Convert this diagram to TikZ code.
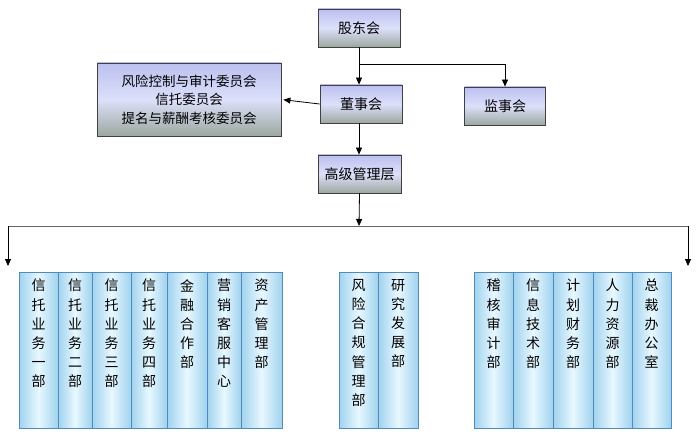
\documentclass[tikz,border=0pt]{standalone}
\usepackage{fontspec}
\setmainfont{Noto Sans CJK SC}
\usetikzlibrary{arrows.meta,calc}
\definecolor{boxtop}{RGB}{188,192,238}
\definecolor{boxmid}{RGB}{220,224,250}
\definecolor{boxbot}{RGB}{156,168,160}
\definecolor{colside}{RGB}{160,210,238}
\definecolor{colmid}{RGB}{232,248,255}
\definecolor{colborder}{RGB}{80,140,185}
\tikzset{
  topbox/.style={draw=black!75, line width=0.8pt, top color=boxtop, bottom color=boxbot, middle color=boxmid,
    minimum height=38pt, inner sep=2pt, font=\fontsize{14}{16}\selectfont},
  colbox/.style={draw=colborder, line width=0.8pt, left color=colside, right color=colside, middle color=colmid},
  coltext/.style={anchor=north, align=center, inner sep=0pt, font=\fontsize{14}{19.2}\selectfont},
  arr/.style={-{Triangle[length=7pt,width=6pt]}, line width=0.8pt, black},
  ln/.style={line width=0.8pt, black},
}
\begin{document}
\begin{tikzpicture}[x=1pt,y=-1pt]
\useasboundingbox (0,0) rectangle (700,443);
\fill[white] (0,0) rectangle (700,443);
% top boxes
\node[topbox, minimum width=82pt] (gd) at (359,28) {股东会};
\node[topbox, minimum width=82pt] (ds) at (361,104) {董事会};
\node[topbox, minimum width=81pt] (js) at (505,106) {监事会};
\node[topbox, minimum width=83pt] (gj) at (359.5,174) {高级管理层};
\node[topbox, minimum width=184pt, minimum height=73pt, align=center, font=\fontsize{13.5}{18.5}\selectfont] (wy) at (189,99.5)
  {风险控制与审计委员会\\信托委员会\\提名与薪酬考核委员会};
% connectors
\coordinate (br) at (359,64);
\draw[arr] (gd.south) -- (gd.south |- ds.north);
\draw[arr] (br) -| (js.north);
\draw[arr, shorten >=2pt] (ds.west) -- (wy.east);
\draw[arr] (gd.south |- ds.south) -- (gd.south |- gj.north);
\coordinate (hb) at (359,226);
\coordinate (hl) at (8,226);
\coordinate (hr) at (688,226);
\coordinate (al) at (8,266);
\coordinate (ar) at (688,266);
\draw[arr] (gj.south) -- (hb);
\draw[line width=0.9pt, black!60] (hl) -- (hr);
\draw[arr] (hl) -- (al);
\draw[arr] (hr) -- (ar);
% columns
\foreach \a/\b/\t/\n in {
  19/58/{信\\托\\业\\务\\一\\部}/c1,
  58/92/{信\\托\\业\\务\\二\\部}/c2,
  92/131/{信\\托\\业\\务\\三\\部}/c3,
  131/167/{信\\托\\业\\务\\四\\部}/c4,
  167/207/{金\\融\\合\\作\\部}/c5,
  207/241/{营\\销\\客\\服\\中\\心}/c6,
  241/282/{资\\产\\管\\理\\部}/c7,
  339/378/{风\\险\\合\\规\\管\\理\\部}/c8,
  378/418/{研\\究\\发\\展\\部}/c9,
  474/513/{稽\\核\\审\\计\\部}/c10,
  513/553/{信\\息\\技\\术\\部}/c11,
  553/593/{计\\划\\财\\务\\部}/c12,
  593/632/{人\\力\\资\\源\\部}/c13,
  632/671/{总\\裁\\办\\公\\室}/c14}{
  \path[colbox] (\a,272) rectangle (\b,428);
  \node[coltext] (\n) at ({(\a+\b)/2},279) {\t};
}
\end{tikzpicture}
\end{document}
